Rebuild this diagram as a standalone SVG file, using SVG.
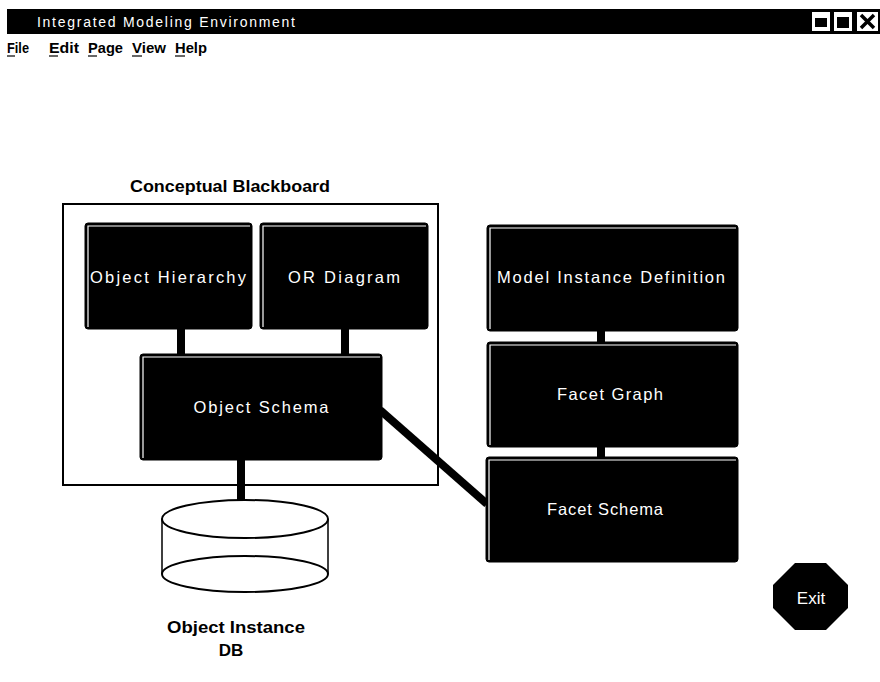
<svg xmlns="http://www.w3.org/2000/svg" width="880" height="682" viewBox="0 0 880 682">
  <style>
    .box { fill: #000; stroke: #000; stroke-width: 1; }
    .bevel { fill: none; stroke: #fff; stroke-width: 1.2; }
    .lbl { font-family: "Liberation Sans", Arial, sans-serif; font-size: 16.5px; fill: #fff; text-anchor: middle; }
    .cap { font-family: "Liberation Sans", Arial, sans-serif; font-weight: bold; fill: #000; }
    .menu { font-family: "Liberation Sans", Arial, sans-serif; font-weight: bold; font-size: 15px; fill: #000; }
    .wire { stroke: #000; stroke-width: 8; fill: none; }
    .ul { stroke: #000; stroke-width: 1.2; }
  </style>

  <rect width="880" height="682" fill="#fff"/>

  <!-- window title bar -->
  <g id="titlebar">
    <rect x="7" y="9" width="873" height="25" fill="#000"/>
    <text x="37" y="27" font-family="Liberation Sans, Arial, sans-serif" font-size="14" fill="#fff" textLength="258" lengthAdjust="spacing">Integrated Modeling Environment</text>
    <!-- minimize -->
    <rect x="812" y="12" width="18" height="19" fill="#fff"/>
    <rect x="815" y="18" width="12" height="9" fill="#000"/>
    <!-- maximize -->
    <rect x="834" y="12" width="18" height="19" fill="#fff"/>
    <rect x="837" y="17" width="12" height="11" fill="#000"/>
    <!-- close -->
    <rect x="857" y="12" width="21" height="19" fill="#fff"/>
    <path d="M861 15 L874 28 M874 15 L861 28" stroke="#000" stroke-width="3.5"/>
  </g>

  <!-- menu bar -->
  <g id="menubar">
    <text class="menu" x="7" y="53" textLength="22" lengthAdjust="spacingAndGlyphs">File</text>
    <line class="ul" x1="7" y1="56" x2="15" y2="56"/>
    <text class="menu" x="49" y="53" textLength="30" lengthAdjust="spacingAndGlyphs">Edit</text>
    <line class="ul" x1="49" y1="56" x2="58" y2="56"/>
    <text class="menu" x="88" y="53" textLength="35" lengthAdjust="spacingAndGlyphs">Page</text>
    <line class="ul" x1="88" y1="56" x2="97" y2="56"/>
    <text class="menu" x="132" y="53" textLength="34" lengthAdjust="spacingAndGlyphs">View</text>
    <line class="ul" x1="132" y1="56" x2="142" y2="56"/>
    <text class="menu" x="175" y="53" textLength="32" lengthAdjust="spacingAndGlyphs">Help</text>
    <line class="ul" x1="175" y1="56" x2="185" y2="56"/>
  </g>

  <!-- blackboard frame -->
  <g id="blackboard">
    <text class="cap" x="230" y="192" font-size="17" text-anchor="middle" textLength="200" lengthAdjust="spacingAndGlyphs">Conceptual Blackboard</text>
    <rect x="63" y="204" width="375" height="281" fill="none" stroke="#000" stroke-width="2"/>
  </g>

  <!-- connectors -->
  <g id="connectors">
    <line class="wire" x1="181" y1="328" x2="181" y2="355"/>
    <line class="wire" x1="345" y1="328" x2="345" y2="355"/>
    <line class="wire" x1="241" y1="460" x2="241" y2="502"/>
    <line class="wire" x1="380" y1="410" x2="487" y2="504"/>
    <line class="wire" x1="601" y1="330" x2="601" y2="343"/>
    <line class="wire" x1="601" y1="446" x2="601" y2="458"/>
  </g>

  <g id="object-hierarchy">
    <rect class="box" x="85" y="223" width="167" height="106" rx="3"/>
    <path class="bevel" d="M88 327 V226 H250"/>
    <text class="lbl" x="168" y="283" textLength="156" lengthAdjust="spacing">Object Hierarchy</text>
  </g>

  <g id="or-diagram">
    <rect class="box" x="260" y="223" width="168" height="106" rx="3"/>
    <path class="bevel" d="M263 327 V226 H426"/>
    <text class="lbl" x="344" y="283" textLength="112" lengthAdjust="spacing">OR Diagram</text>
  </g>

  <g id="object-schema">
    <rect class="box" x="140" y="354" width="242" height="106" rx="3"/>
    <path class="bevel" d="M143 458 V357 H380"/>
    <text class="lbl" x="261" y="413" textLength="135" lengthAdjust="spacing">Object Schema</text>
  </g>

  <g id="model-instance-definition">
    <rect class="box" x="487" y="225" width="251" height="106" rx="3"/>
    <path class="bevel" d="M490 329 V228 H736"/>
    <text class="lbl" x="611" y="283" textLength="228" lengthAdjust="spacing">Model Instance Definition</text>
  </g>

  <g id="facet-graph">
    <rect class="box" x="487" y="342" width="251" height="105" rx="3"/>
    <path class="bevel" d="M490 445 V345 H736"/>
    <text class="lbl" x="610" y="400" textLength="106" lengthAdjust="spacing">Facet Graph</text>
  </g>

  <g id="facet-schema">
    <rect class="box" x="486" y="457" width="252" height="105" rx="3"/>
    <path class="bevel" d="M489 560 V460 H736"/>
    <text class="lbl" x="605" y="515" textLength="116" lengthAdjust="spacing">Facet Schema</text>
  </g>

  <g id="object-instance-db">
    <path d="M162 519 V574 M328 519 V574" stroke="#000" stroke-width="1.5" fill="none"/>
    <ellipse cx="245" cy="574" rx="83" ry="18" fill="none" stroke="#000" stroke-width="2"/>
    <ellipse cx="245" cy="519" rx="83" ry="19" fill="#fff" stroke="#000" stroke-width="2"/>
    <text class="cap" x="236" y="633" font-size="17" text-anchor="middle" textLength="138" lengthAdjust="spacingAndGlyphs">Object Instance</text>
    <text class="cap" x="231" y="656" font-size="17" text-anchor="middle">DB</text>
  </g>

  <g id="exit">
    <polygon points="795,563 826,563 848,585 848,608 826,630 795,630 773,608 773,585" fill="#000"/>
    <text x="811" y="604" font-family="Liberation Sans, Arial, sans-serif" font-size="17" fill="#fff" text-anchor="middle">Exit</text>
  </g>
</svg>
